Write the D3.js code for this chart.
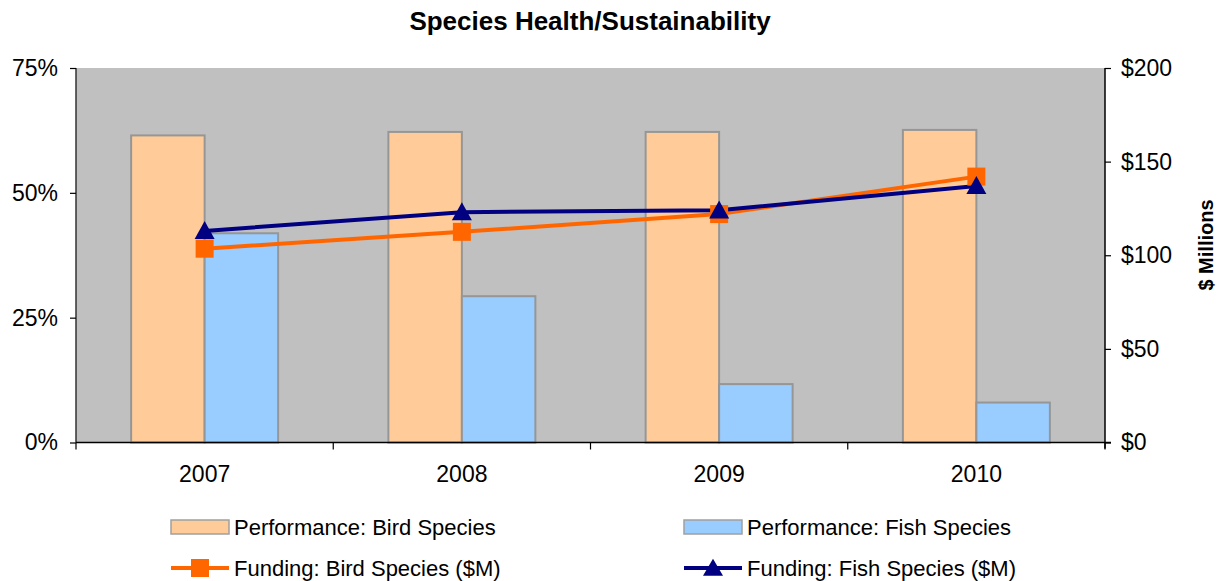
<!DOCTYPE html>
<html>
<head>
<meta charset="utf-8">
<script src="https://cdn.jsdelivr.net/npm/d3@7"></script>
<style>
body { margin: 0; background: #fff; }
svg { display: block; }
text { font-family: "Liberation Sans", Arial, sans-serif; fill: #000; }
</style>
</head>
<body>
<svg id="chart" width="1220" height="581"></svg>
<script>
const years = ["2007", "2008", "2009", "2010"];
const perfBird = [61.5, 62.2, 62.2, 62.6];
const perfFish = [41.9, 29.3, 11.7, 8.0];
const fundBird = [103.5, 112.5, 122, 142];
const fundFish = [113, 123, 124, 137];
const leftTicks = [0, 25, 50, 75];
const rightTicks = [0, 50, 100, 150, 200];
const barSeries = ["Performance: Bird Species", "Performance: Fish Species"];
const lineSeries = ["Funding: Bird Species ($M)", "Funding: Fish Species ($M)"];

const W = 1220, H = 581;
const m = { left: 76, right: 1105, top: 68, bottom: 442.5 };
const svg = d3.select("#chart");

const x0 = d3.scaleBand().domain(years).range([m.left, m.right]).padding(0);
const bw = x0.bandwidth();
const barW = bw / 3.5;
const x1 = d3.scaleBand().domain(barSeries).range([bw / 2 - barW, bw / 2 + barW]).padding(0);
const yL = d3.scaleLinear().domain([0, 75]).range([m.bottom, m.top]);
const yR = d3.scaleLinear().domain([0, 200]).range([m.bottom, m.top]);

const barColors = ["#FFCC99", "#99CCFF"];
const lineColors = ["#FF6600", "#000080"];

// plot background
svg.append("rect").attr("x", m.left).attr("y", m.top)
  .attr("width", m.right - m.left).attr("height", m.bottom - m.top)
  .attr("fill", "#C0C0C0");

// bars
const barData = [perfBird, perfFish];
barData.forEach((vals, si) => {
  svg.append("g").selectAll("rect").data(vals).join("rect")
    .attr("x", (d, i) => x0(years[i]) + x1(barSeries[si]))
    .attr("y", d => yL(d))
    .attr("width", x1.bandwidth())
    .attr("height", d => yL(0) - yL(d))
    .attr("fill", barColors[si])
    .attr("stroke", "#969696")
    .attr("stroke-width", 2);
});

// axes
const fmtPct = d => d + "%";
const gL = svg.append("g").attr("transform", `translate(${m.left},0)`)
  .call(d3.axisLeft(yL).tickValues(leftTicks).tickFormat(fmtPct).tickSize(6).tickPadding(12));
const gR = svg.append("g").attr("transform", `translate(${m.right},0)`)
  .call(d3.axisRight(yR).tickValues(rightTicks).tickFormat(d => "$" + d).tickSize(6).tickPadding(10));
const gB = svg.append("g").attr("transform", `translate(0,${m.bottom})`)
  .call(d3.axisBottom(x0).tickSize(0).tickPadding(23));
[gL, gR, gB].forEach(g => {
  g.selectAll(".domain").attr("stroke", "#000").attr("stroke-width", 1.5);
  g.selectAll(".tick line").attr("stroke", "#000").attr("stroke-width", 1.2);
  g.selectAll("text").style("font-family", '"Liberation Sans", Arial, sans-serif')
    .style("font-size", "23px").attr("fill", "#000");
});
gL.select(".domain").attr("d", `M0,${m.top}V${m.bottom}`).attr("stroke", "#333");
gR.select(".domain").attr("d", `M0,${m.top}V${m.bottom + 6}`);
gB.select(".domain").attr("d", `M${m.left},0H${m.right + 6}`);
// category boundary ticks on x axis
const bounds = years.map(y => x0(y)).concat([m.right]);
gB.selectAll(".bound").data(bounds).join("line")
  .attr("class", "bound")
  .attr("x1", d => d).attr("x2", d => d)
  .attr("y1", 0).attr("y2", 7)
  .attr("stroke", "#000").attr("stroke-width", 1.2);

// lines
const lineData = [fundBird, fundFish];
const cx = i => x0(years[i]) + bw / 2;
const lineGen = d3.line().x((d, i) => cx(i)).y(d => yR(d));
lineData.forEach((vals, si) => {
  svg.append("path").datum(vals)
    .attr("d", lineGen)
    .attr("fill", "none")
    .attr("stroke", lineColors[si])
    .attr("stroke-width", 4);
});
const sq = 18;
svg.append("g").selectAll("rect").data(fundBird).join("rect")
  .attr("x", (d, i) => cx(i) - sq / 2)
  .attr("y", d => yR(d) - sq / 2)
  .attr("width", sq).attr("height", sq)
  .attr("fill", lineColors[0]);
const tri = (w, h) => `M0,${-h * 0.55}L${w / 2},${h * 0.45}L${-w / 2},${h * 0.45}Z`;
svg.append("g").selectAll("path").data(fundFish).join("path")
  .attr("transform", (d, i) => `translate(${cx(i)},${yR(d)})`)
  .attr("d", tri(20, 18))
  .attr("fill", lineColors[1]);

// title
svg.append("text").attr("x", 590).attr("y", 30)
  .attr("text-anchor", "middle")
  .style("font-size", "26px").style("font-weight", "bold")
  .text("Species Health/Sustainability");

// right axis title
svg.append("text")
  .attr("transform", `translate(1213,245) rotate(-90)`)
  .attr("text-anchor", "middle")
  .style("font-size", "20px").style("font-weight", "bold")
  .text("$ Millions");

// legend
const legX = [171, 684];
const leg = svg.append("g");
barSeries.forEach((s, i) => {
  leg.append("rect").attr("x", legX[i]).attr("y", 520)
    .attr("width", 58).attr("height", 14)
    .attr("fill", barColors[i]).attr("stroke", "#A0A0A0").attr("stroke-width", 1.5);
  leg.append("text").attr("x", legX[i] + 63).attr("y", 535)
    .style("font-size", "22px").text(s);
});
lineSeries.forEach((s, i) => {
  leg.append("line").attr("x1", legX[i]).attr("x2", legX[i] + 58)
    .attr("y1", 568).attr("y2", 568)
    .attr("stroke", lineColors[i]).attr("stroke-width", 4);
  if (i === 0) {
    leg.append("rect").attr("x", legX[i] + 29 - 9).attr("y", 568 - 9)
      .attr("width", 18).attr("height", 18).attr("fill", lineColors[i]);
  } else {
    leg.append("path").attr("transform", `translate(${legX[i] + 29},568)`)
      .attr("d", tri(20, 17)).attr("fill", lineColors[i]);
  }
  leg.append("text").attr("x", legX[i] + 63).attr("y", 576)
    .style("font-size", "22px").text(s);
});
</script>
</body>
</html>
